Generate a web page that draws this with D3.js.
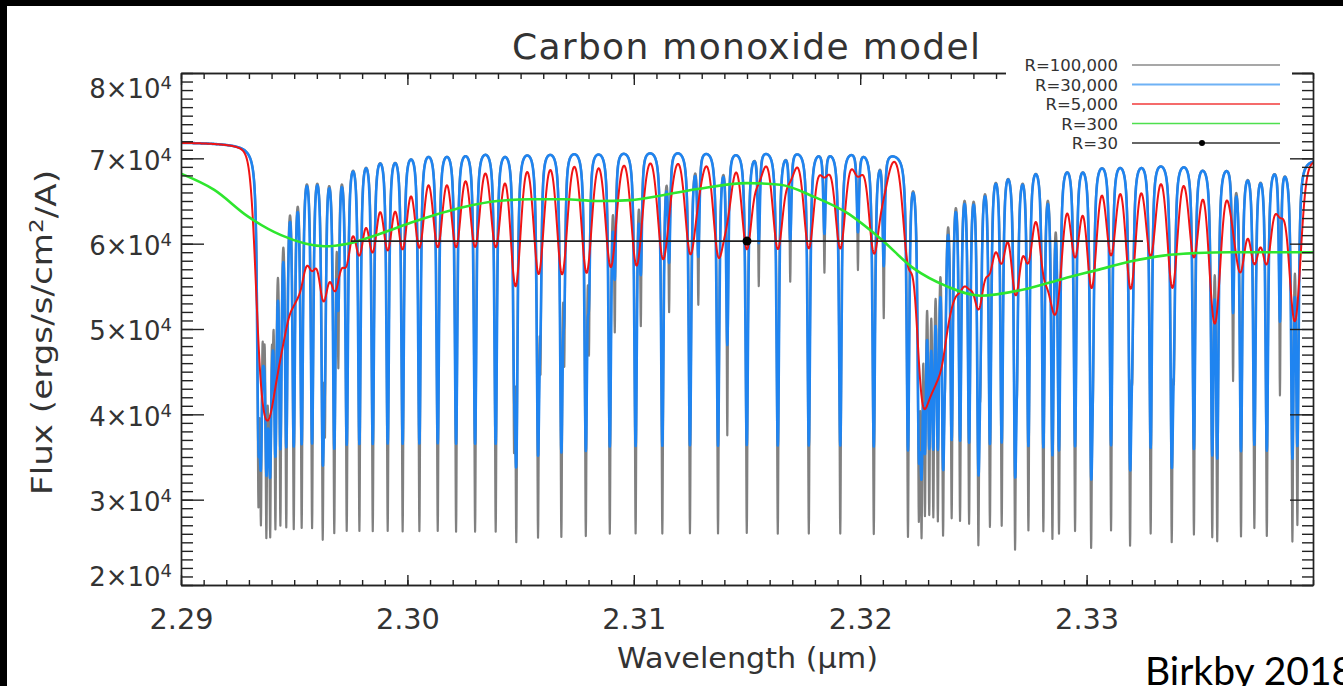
<!DOCTYPE html>
<html><head><meta charset="utf-8">
<script src="https://cdn.jsdelivr.net/npm/d3@7"></script>
<style>
body{margin:0;background:#fff;overflow:hidden;}
svg{display:block;}
</style></head><body>
<svg id="chart" width="1343" height="686"></svg>
<script>
// ---------------- DATA ----------------
const chartTitle = "Carbon monoxide model";
const xLabel = "Wavelength (\u03bcm)";
const yLabelParts = ["Flux (ergs/s/cm", "2", "/A)"];
const credit = "Birkby 2018";
const xMajorTicks = [2.29, 2.30, 2.31, 2.32, 2.33];
const xTickLabels = ["2.29", "2.30", "2.31", "2.32", "2.33"];
const yMajorTicks = [20000, 30000, 40000, 50000, 60000, 70000, 80000];
const yTickMantissa = ["2", "3", "4", "5", "6", "7", "8"];
const yTickExponent = "4";
const legendLabels = ["R=100,000", "R=30,000", "R=5,000", "R=300", "R=30"];

// CO 2-0 band lines (wavelength, micron) and their R=100,000 line-core flux (x1e4)
const lines20 = [2.29342, 2.29353, 2.29377, 2.29394, 2.29417, 2.29439, 2.29465, 2.29498, 2.29533, 2.29579,
  2.29626, 2.29677, 2.29732, 2.29788, 2.29847, 2.29913, 2.29979, 2.30053, 2.30134, 2.30215,
  2.30299, 2.30390, 2.30481, 2.30577, 2.30680, 2.30788, 2.30894, 2.31008, 2.31126, 2.31248,
  2.31372, 2.31499, 2.31636, 2.31773, 2.31912, 2.32060, 2.32211, 2.32366, 2.32522, 2.32684,
  2.32849, 2.33020, 2.33192, 2.33376, 2.33555, 2.33741, 2.33931];
const core20 = [3.30, 3.15, 2.95, 2.98, 2.92, 2.90, 2.82, 2.76, 2.75, 2.73,
  2.70, 2.69, 2.68, 2.67, 2.66, 2.66, 2.65, 2.65, 2.65, 2.64,
  2.64, 2.64, 2.64, 2.64, 2.63, 2.63, 2.63, 2.63, 2.62, 2.62,
  2.62, 2.62, 2.61, 2.61, 2.61, 2.61, 2.61, 2.90, 2.70, 2.62,
  2.62, 2.66, 2.62, 2.66, 2.65, 2.70, 2.79];
// CO 3-1 band lines
const lines31 = [2.32259, 2.32271, 2.32286, 2.32305, 2.32323, 2.32343, 2.32375, 2.32404, 2.32441, 2.32481,
  2.32531, 2.32573, 2.32625, 2.32693, 2.32743, 2.32809, 2.32878, 2.32949, 2.33028, 2.33108,
  2.33202, 2.33283, 2.33386, 2.33474, 2.33577, 2.33682, 2.33796, 2.33909];
const core31 = [3.10, 3.00, 3.20, 3.15, 3.10, 3.00, 5.20, 2.90, 2.84, 2.80,
  5.00, 2.74, 2.74, 5.00, 2.68, 2.68, 2.67, 2.66, 5.00, 2.66,
  5.00, 2.62, 5.00, 2.61, 2.60, 2.60, 2.60, 2.59];
// weaker, narrow lines
const linesWeak = [2.29365, 2.29386, 2.29405, 2.29636, 2.29695, 2.30471, 2.30588, 2.30693, 2.30802, 2.30916,
  2.31031, 2.31156, 2.31285, 2.31413, 2.31552, 2.31691, 2.31842, 2.31990, 2.32104, 2.33647, 2.33854];
const coreWeak = [5.40, 5.60, 5.90, 4.32, 4.84, 4.05, 5.00, 4.96, 5.05, 5.13,
  5.19, 5.30, 5.36, 3.80, 5.55, 5.60, 5.70, 5.73, 5.19, 4.48, 4.28];
// continuum level (x1e4)
const contLambda = [2.283, 2.29, 2.30, 2.31, 2.32, 2.33, 2.34, 2.347];
const contFlux = [7.18, 7.18, 7.17, 7.15, 7.12, 7.05, 7.00, 7.00];
// R=300 curve
const r300Lambda = [2.29000, 2.29147, 2.29295, 2.29442, 2.29633, 2.29736, 2.29883, 2.30031, 2.30250, 2.30397,
  2.30545, 2.30692, 2.30839, 2.30986, 2.31133, 2.31281, 2.31500, 2.31647, 2.31795, 2.31942,
  2.32089, 2.32236, 2.32383, 2.32531, 2.32750, 2.32897, 2.33045, 2.33192, 2.33339, 2.33486,
  2.33633, 2.33781, 2.34000];
const r300Flux = [6.82, 6.63, 6.32, 6.10, 5.97, 6.00, 6.12, 6.26, 6.43, 6.50,
  6.52, 6.52, 6.50, 6.51, 6.57, 6.64, 6.71, 6.69, 6.55, 6.36,
  6.06, 5.71, 5.50, 5.39, 5.48, 5.59, 5.69, 5.79, 5.86, 5.89,
  5.90, 5.90, 5.90];
// R=30 single bin
const r30Lambda = [2.29751, 2.33249];
const r30Center = 2.3150;
const r30Flux = 6.03;
const resolvingPowers = [100000, 30000, 5000];

// ---------------- BUILD ----------------
const svg = d3.select("#chart");
const L = 181, R = 1313, T = 73, B = 585;
const x = d3.scaleLinear().domain([2.29, 2.34]).range([L, R]);
const y = d3.scaleLinear().domain([20000, 80000]).range([B, T]);
const FONT = "'DejaVu Sans', sans-serif";
const INK = "#333";

svg.append("rect").attr("width", 1343).attr("height", 686).attr("fill", "#fff");

// synthetic spectrum from the line list
const step = 1e-5, lo = 2.283, hi = 2.347;
const n = Math.round((hi - lo) / step) + 1;
const lam = d3.range(n).map(i => lo + i * step);
const cont = d3.scaleLinear().domain(contLambda).range(contFlux).clamp(true);
const gMain = 4.86e-5, gWeak = 3.53e-5;
const allLines = [];
lines20.forEach((l, i) => allLines.push({ l, c: core20[i], g: gMain }));
lines31.forEach((l, i) => allLines.push({ l, c: core31[i], g: gMain }));
linesWeak.forEach((l, i) => allLines.push({ l, c: coreWeak[i], g: gWeak }));
allLines.forEach(o => { o.d = 1 - o.c / cont(o.l); o.g2 = o.g * o.g; });
const fGray = lam.map(v => {
  let f = cont(v);
  for (const o of allLines) {
    const dx = v - o.l;
    if (Math.abs(dx) > 60 * o.g) continue;
    f *= 1 - o.d * o.g2 / (dx * dx + o.g2);
  }
  return f * 1e4;
});
function smooth(arr, Rp) {
  const sig = 2.315 / (Rp * 2.3548) / step;
  const h = Math.ceil(4 * sig);
  const k = d3.range(-h, h + 1).map(j => Math.exp(-0.5 * (j / sig) ** 2));
  const ks = d3.sum(k);
  return arr.map((_, i) => {
    let s = 0;
    for (let j = -h; j <= h; j++) {
      const idx = Math.min(arr.length - 1, Math.max(0, i + j));
      s += arr[idx] * k[j + h];
    }
    return s / ks;
  });
}
const fBlue = smooth(fGray, resolvingPowers[1]);
const fRed = smooth(fGray, resolvingPowers[2]);

svg.append("clipPath").attr("id", "plotclip").append("rect")
  .attr("x", L).attr("y", T).attr("width", R - L).attr("height", B - T);
const plot = svg.append("g").attr("clip-path", "url(#plotclip)");
const idx = d3.range(n).filter(i => lam[i] >= 2.2895 && lam[i] <= 2.3405);
const spec = arr => d3.line().x(i => x(lam[i])).y(i => y(arr[i]))(idx);

plot.append("path").attr("d", spec(fGray)).attr("fill", "none")
  .attr("stroke", "#808080").attr("stroke-width", 2.2).attr("stroke-linejoin", "round");
plot.append("path").attr("d", spec(fBlue)).attr("fill", "none")
  .attr("stroke", "#1f84f0").attr("stroke-width", 2.6).attr("stroke-linejoin", "round");
plot.append("path").attr("d", spec(fRed)).attr("fill", "none")
  .attr("stroke", "#f01414").attr("stroke-width", 2).attr("stroke-linejoin", "round");
plot.append("path")
  .attr("d", d3.line().x((d, i) => x(r300Lambda[i])).y((d, i) => y(r300Flux[i] * 1e4)).curve(d3.curveMonotoneX)(r300Lambda))
  .attr("fill", "none").attr("stroke", "#2ee62e").attr("stroke-width", 2.6);
plot.append("line").attr("x1", x(r30Lambda[0])).attr("x2", x(r30Lambda[1]))
  .attr("y1", y(r30Flux * 1e4)).attr("y2", y(r30Flux * 1e4))
  .attr("stroke", "#222").attr("stroke-width", 1.6);
plot.append("circle").attr("cx", x(r30Center)).attr("cy", y(r30Flux * 1e4)).attr("r", 4.5).attr("fill", "#000");

// ---------------- AXES ----------------
const xMinor = d3.range(0, 51).map(i => 2.29 + i * 0.001);
const yMinor = d3.range(0, 61).map(i => 20000 + i * 1000);
function styleAxis(g) {
  g.selectAll("path.domain").attr("stroke", "#222").attr("stroke-width", 1.4);
  g.selectAll(".tick line").attr("stroke", "#222").attr("stroke-width", 1.4);
}
const axes = svg.append("g");
// bottom
axes.append("g").attr("transform", `translate(0,${B})`)
  .call(d3.axisBottom(x).tickValues(xMinor).tickSize(-5).tickSizeOuter(0).tickFormat(""))
  .call(styleAxis);
const gxb = axes.append("g").attr("transform", `translate(0,${B})`)
  .call(d3.axisBottom(x).tickValues(xMajorTicks).tickSize(-10).tickSizeOuter(0).tickPadding(23)
    .tickFormat((d, i) => xTickLabels[i]))
  .call(styleAxis);
gxb.selectAll("text").attr("font-family", FONT).attr("font-size", 29).attr("fill", INK)
  .attr("textLength", 64).attr("lengthAdjust", "spacingAndGlyphs");
// top
axes.append("g").attr("transform", `translate(0,${T})`)
  .call(d3.axisTop(x).tickValues(xMinor).tickSize(-6).tickSizeOuter(0).tickFormat(""))
  .call(styleAxis);
axes.append("g").attr("transform", `translate(0,${T})`)
  .call(d3.axisTop(x).tickValues(xMajorTicks).tickSize(-12).tickSizeOuter(0).tickFormat(""))
  .call(styleAxis);
// left
axes.append("g").attr("transform", `translate(${L},0)`)
  .call(d3.axisLeft(y).tickValues(yMinor).tickSize(-12).tickSizeOuter(0).tickFormat(""))
  .call(styleAxis);
const gyl = axes.append("g").attr("transform", `translate(${L},0)`)
  .call(d3.axisLeft(y).tickValues(yMajorTicks).tickSize(-23).tickSizeOuter(0).tickPadding(9))
  .call(styleAxis);
gyl.selectAll(".tick text").each(function (d) {
  const i = yMajorTicks.indexOf(d);
  const t = d3.select(this).text(null)
    .attr("font-family", FONT).attr("font-size", 26).attr("fill", INK)
    .attr("dy", i === yMajorTicks.length - 1 ? "0.95em" : (i === 0 ? "0.0em" : "0.42em"));
  t.append("tspan").text(yTickMantissa[i] + "\u00d710");
  t.append("tspan").attr("dy", "-0.5em").attr("font-size", 18).text(yTickExponent);
});
// right
axes.append("g").attr("transform", `translate(${R},0)`)
  .call(d3.axisRight(y).tickValues(yMinor).tickSize(-11).tickSizeOuter(0).tickFormat(""))
  .call(styleAxis);
axes.append("g").attr("transform", `translate(${R},0)`)
  .call(d3.axisRight(y).tickValues(yMajorTicks).tickSize(-23).tickSizeOuter(0).tickFormat(""))
  .call(styleAxis);

// ---------------- TEXT ----------------
svg.append("text").attr("x", 512).attr("y", 59).attr("font-family", FONT).attr("font-size", 36)
  .attr("fill", INK).attr("textLength", 468).attr("lengthAdjust", "spacing").text(chartTitle);
svg.append("text").attr("x", 617).attr("y", 668).attr("font-family", FONT).attr("font-size", 29)
  .attr("fill", INK).attr("textLength", 261).attr("lengthAdjust", "spacingAndGlyphs").text(xLabel);
const yl = svg.append("text").attr("transform", "translate(52,495) rotate(-90)")
  .attr("font-family", FONT).attr("font-size", 28).attr("fill", INK);
yl.append("tspan").text(yLabelParts[0]);
yl.append("tspan").attr("dy", "-0.45em").attr("font-size", 19).text(yLabelParts[1]);
yl.append("tspan").attr("dy", "0.45em").text(yLabelParts[2]);
yl.attr("textLength", 325).attr("lengthAdjust", "spacingAndGlyphs");

// ---------------- LEGEND ----------------
svg.append("rect").attr("x", 1006).attr("y", 52).attr("width", 286).attr("height", 100).attr("fill", "#fff");
const legColors = ["#8a8a8a", "#6fb2f5", "#f23a3a", "#4ee04e", "#333"];
const legY = [65, 84.5, 104, 123.5, 143];
legendLabels.forEach((lab, i) => {
  svg.append("text").attr("x", 1118).attr("y", legY[i] + 6).attr("text-anchor", "end")
    .attr("font-family", FONT).attr("font-size", 16.5).attr("fill", INK).text(lab);
  svg.append("line").attr("x1", 1132).attr("x2", 1280).attr("y1", legY[i]).attr("y2", legY[i])
    .attr("stroke", legColors[i]).attr("stroke-width", i === 1 ? 2 : 1.3);
});
svg.append("circle").attr("cx", 1202).attr("cy", legY[4]).attr("r", 3).attr("fill", "#000");

// ---------------- FRAME ----------------
svg.append("rect").attr("x", 0).attr("y", 0).attr("width", 1343).attr("height", 6).attr("fill", "#000");
svg.append("rect").attr("x", 0).attr("y", 0).attr("width", 7).attr("height", 686).attr("fill", "#000");
svg.append("text").attr("x", 1145).attr("y", 685).attr("font-family", "Lato, 'Open Sans', sans-serif")
  .attr("font-size", 39).attr("fill", "#000").text(credit);
</script>
</body></html>
